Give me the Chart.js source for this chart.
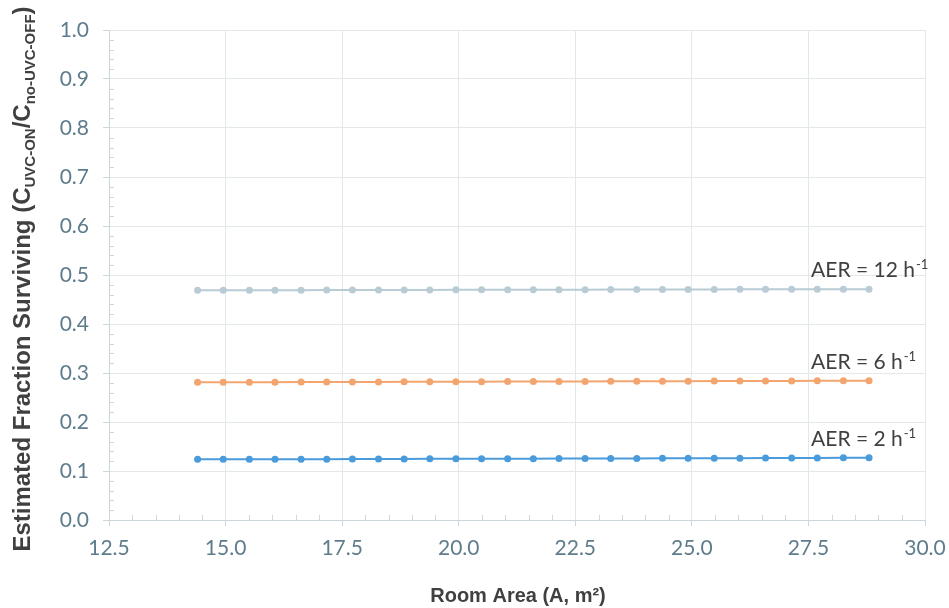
<!DOCTYPE html>
<html>
<head>
<meta charset="utf-8">
<style>
  html, body { margin: 0; padding: 0; background: #ffffff; }
  #wrap { width: 949px; height: 608px; position: relative; }
</style>
<script src="https://cdn.jsdelivr.net/npm/chart.js@4/dist/chart.umd.min.js"></script>
</head>
<body>
<div id="wrap"><canvas id="c" width="949" height="608"></canvas></div>
<script>
// Room area (m²) for each modelled room
const roomArea = [14.4, 14.95, 15.51, 16.06, 16.62, 17.17, 17.72, 18.28, 18.83, 19.38,
  19.94, 20.49, 21.05, 21.6, 22.15, 22.71, 23.26, 23.82, 24.37, 24.92,
  25.48, 26.03, 26.58, 27.14, 27.69, 28.25, 28.8];

// Estimated fraction surviving per air exchange rate
const aer2 = [0.124, 0.124, 0.124, 0.124, 0.124, 0.124, 0.1245, 0.1245, 0.1245, 0.125,
  0.125, 0.125, 0.125, 0.125, 0.1255, 0.1255, 0.1255, 0.1255, 0.126, 0.126,
  0.126, 0.126, 0.1265, 0.1265, 0.1265, 0.127, 0.127];
const aer6 = [0.281, 0.281, 0.281, 0.281, 0.2815, 0.2815, 0.2815, 0.2815, 0.282, 0.282,
  0.282, 0.282, 0.2825, 0.2825, 0.2825, 0.2825, 0.283, 0.283, 0.283, 0.283,
  0.2835, 0.2835, 0.2835, 0.2835, 0.284, 0.284, 0.284];
const aer12 = [0.469, 0.469, 0.469, 0.469, 0.469, 0.4695, 0.4695, 0.4695, 0.4695, 0.4695,
  0.47, 0.47, 0.47, 0.47, 0.47, 0.47, 0.4705, 0.4705, 0.4705, 0.4705,
  0.4705, 0.471, 0.471, 0.471, 0.471, 0.471, 0.471];

// Series labels: main text and superscript
const seriesNames = ['AER = 2 h', 'AER = 6 h', 'AER = 12 h'];
const seriesSup = ['-1', '-1', '-1'];

// Tick labels
const xTicks = [12.5, 15.0, 17.5, 20.0, 22.5, 25.0, 27.5, 30.0];
const yTicks = [0.0, 0.1, 0.2, 0.3, 0.4, 0.5, 0.6, 0.7, 0.8, 0.9, 1.0];

const TICK_FONT = '"Lato", "Open Sans", sans-serif';
const TICK_COLOR = '#5f7c8c';
const TEXT_COLOR = '#404040';
const GRID_COLOR = '#e3e8eb';
const AXIS_COLOR = '#cdd6db';

const colors = ['#4a9bdc', '#f3a56f', '#b9ccd6'];
const seriesData = [aer2, aer6, aer12];

function toPoints(ys) {
  return roomArea.map((x, i) => ({ x: x, y: ys[i] }));
}

// Minor tick marks drawn inside the plot along both axes
const minorTicks = {
  id: 'minorTicks',
  afterDraw(chart) {
    const { ctx, chartArea: a, scales: { x, y } } = chart;
    ctx.save();
    ctx.strokeStyle = AXIS_COLOR;
    ctx.lineWidth = 1;
    ctx.beginPath();
    for (let v = 13.0; v < 30.0; v += 0.5) {
      const r = Math.round(v * 10) / 10;
      if (Math.abs(r / 2.5 - Math.round(r / 2.5)) < 1e-6) continue;
      const px = Math.round(x.getPixelForValue(r)) + 0.5;
      ctx.moveTo(px, a.bottom);
      ctx.lineTo(px, a.bottom - 5);
    }
    for (let k = 1; k < 50; k++) {
      if (k % 5 === 0) continue;
      const py = Math.round(y.getPixelForValue(k * 0.02)) + 0.5;
      ctx.moveTo(a.left, py);
      ctx.lineTo(a.left + 5, py);
    }
    ctx.stroke();
    ctx.restore();
  }
};

// Axis titles (with sub/superscripts) and series labels
const textLayer = {
  id: 'textLayer',
  afterDraw(chart) {
    const { ctx, chartArea: a, scales: { x, y } } = chart;
    ctx.save();
    ctx.fillStyle = TEXT_COLOR;

    // x-axis title
    ctx.font = 'bold 20px "Liberation Sans", Arial, sans-serif';
    ctx.textAlign = 'center';
    ctx.textBaseline = 'alphabetic';
    ctx.fillText('Room Area (A, m²)', (a.left + a.right) / 2 + 1, 602);

    // y-axis title, rotated, built from runs
    const runs = [
      { t: 'Estimated Fraction Surviving (C', sub: false },
      { t: 'UVC-ON', sub: true },
      { t: '/C', sub: false },
      { t: 'no-UVC-OFF', sub: true },
      { t: ')', sub: false }
    ];
    const big = 'bold 24px "Liberation Sans", Arial, sans-serif';
    const small = 'bold 15px "Liberation Sans", Arial, sans-serif';
    let total = 0;
    runs.forEach(r => { ctx.font = r.sub ? small : big; r.w = ctx.measureText(r.t).width; total += r.w; });
    ctx.translate(30, (a.top + a.bottom) / 2 + 4);
    ctx.rotate(-Math.PI / 2);
    ctx.textAlign = 'left';
    let cx = -total / 2;
    runs.forEach(r => {
      ctx.font = r.sub ? small : big;
      ctx.fillText(r.t, cx, r.sub ? 5 : 0);
      cx += r.w;
    });
    ctx.setTransform(1, 0, 0, 1, 0, 0);

    // series labels above the right end of each line
    chart.data.datasets.forEach((ds, i) => {
      const last = ds.data[ds.data.length - 1];
      const px = x.getPixelForValue(last.x) - 58;
      const py = y.getPixelForValue(last.y) - 12;
      ctx.font = '21px "Lato", "Open Sans", sans-serif';
      ctx.textAlign = 'left';
      ctx.fillText(seriesNames[i], px, py);
      const w = ctx.measureText(seriesNames[i]).width;
      ctx.font = '13px "Lato", "Open Sans", sans-serif';
      ctx.fillText(seriesSup[i], px + w + 1, py - 8);
    });
    ctx.restore();
  }
};

new Chart(document.getElementById('c'), {
  type: 'line',
  data: {
    datasets: seriesData.map((d, i) => ({
      label: seriesNames[i] + seriesSup[i],
      data: toPoints(d),
      borderColor: colors[i],
      backgroundColor: colors[i],
      borderWidth: 2,
      pointRadius: 3.5,
      pointHoverRadius: 3.5,
      pointBorderWidth: 0,
      tension: 0,
      fill: false
    }))
  },
  options: {
    responsive: false,
    animation: false,
    devicePixelRatio: 1,
    layout: { padding: { left: 0, right: 24, top: 30, bottom: 0 } },
    plugins: { legend: { display: false }, tooltip: { enabled: false } },
    scales: {
      x: {
        type: 'linear',
        min: 12.5,
        max: 30.0,
        afterBuildTicks: s => { s.ticks = xTicks.map(v => ({ value: v })); },
        afterFit: s => { s.height = 88; s.paddingLeft = 0; s.paddingRight = 0; },
        ticks: {
          callback: v => Number(v).toFixed(1),
          color: TICK_COLOR,
          font: { family: TICK_FONT, size: 21 },
          padding: 10,
          maxRotation: 0,
          autoSkip: false
        },
        grid: { color: GRID_COLOR, tickColor: AXIS_COLOR, tickLength: 6, lineWidth: 1 },
        border: { color: AXIS_COLOR, width: 1 }
      },
      y: {
        type: 'linear',
        min: 0,
        max: 1.0,
        afterBuildTicks: s => { s.ticks = yTicks.map(v => ({ value: v })); },
        afterFit: s => { s.width = 109; s.paddingTop = 0; s.paddingBottom = 0; },
        ticks: {
          callback: v => Number(v).toFixed(1),
          color: TICK_COLOR,
          font: { family: TICK_FONT, size: 21 },
          padding: 14,
          autoSkip: false
        },
        grid: { color: GRID_COLOR, tickColor: AXIS_COLOR, tickLength: 6, lineWidth: 1 },
        border: { color: AXIS_COLOR, width: 1 }
      }
    }
  },
  plugins: [minorTicks, textLayer]
});
</script>
</body>
</html>
